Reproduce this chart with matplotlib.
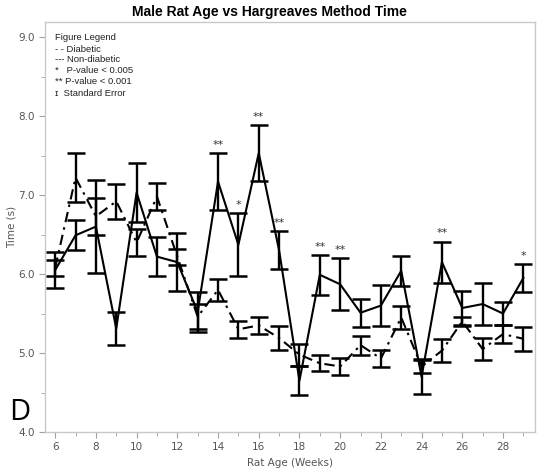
import matplotlib
matplotlib.use("Agg")
import matplotlib.pyplot as plt
from matplotlib.ticker import MultipleLocator

weeks = list(range(6, 30))
nondiabetic = [6.05, 6.49, 6.60, 5.31, 7.03, 6.22, 6.15, 5.52, 7.17, 6.37, 7.53, 6.30,
               4.65, 5.99, 5.87, 5.51, 5.60, 6.04, 4.70, 6.15, 5.57, 5.62, 5.50, 5.95]
nondiabetic_se = [0.23, 0.19, 0.59, 0.21, 0.37, 0.25, 0.37, 0.25, 0.36, 0.40, 0.35, 0.24,
                  0.18, 0.25, 0.33, 0.18, 0.26, 0.19, 0.22, 0.26, 0.22, 0.26, 0.15, 0.18]
diabetic = [6.08, 7.22, 6.73, 6.92, 6.40, 6.98, 6.22, 5.46, 5.80, 5.30, 5.35, 5.19,
            4.98, 4.87, 4.83, 5.10, 4.93, 5.45, 4.83, 5.03, 5.40, 5.05, 5.24, 5.18]
diabetic_se = [0.10, 0.31, 0.23, 0.22, 0.17, 0.17, 0.10, 0.16, 0.14, 0.11, 0.11, 0.15,
               0.14, 0.10, 0.11, 0.12, 0.11, 0.15, 0.08, 0.15, 0.06, 0.14, 0.11, 0.15]
sig_weeks = [14, 15, 16, 17, 19, 20, 25, 29]
sig_marks = ["**", "*", "**", "**", "**", "**", "**", "*"]

legend_lines = ["Figure Legend", "- - Diabetic", "--- Non-diabetic",
                "*   P-value < 0.005", "** P-value < 0.001", "ɪ  Standard Error"]

fig = plt.figure(figsize=(5.39, 4.72), dpi=100)
ax = fig.add_axes([0.0835, 0.0847, 0.909, 0.8687])

ax.errorbar(weeks, nondiabetic, yerr=nondiabetic_se, color="black", lw=1.5,
            ls="-", capsize=6.5, capthick=1.8, elinewidth=1.7, zorder=3)
ax.errorbar(weeks, diabetic, yerr=diabetic_se, color="black", lw=1.5,
            ls=(0, (5, 2.5, 1.2, 2.5)), capsize=6.5, capthick=1.8, elinewidth=1.7, zorder=3)

for w, m in zip(sig_weeks, sig_marks):
    i = weeks.index(w)
    top = nondiabetic[i] + nondiabetic_se[i]
    ax.text(w, top + 0.04, m, ha="center", va="bottom", fontsize=8, color="#333333")

ax.set_xlim(5.5, 29.57)
ax.set_ylim(4.0, 9.19)
ax.xaxis.set_major_locator(MultipleLocator(2))
ax.xaxis.set_minor_locator(MultipleLocator(1))
ax.yaxis.set_major_locator(MultipleLocator(1.0))
ax.yaxis.set_minor_locator(MultipleLocator(0.5))
ax.yaxis.set_major_formatter(matplotlib.ticker.FormatStrFormatter("%.1f"))

for s in ax.spines.values():
    s.set_color("#c8c8c8")
    s.set_linewidth(1.0)
ax.tick_params(which="both", direction="out", color="#a0a0a0", labelcolor="#555555",
               labelsize=7.5)
ax.tick_params(which="major", length=4)
ax.tick_params(which="minor", length=3)

ax.set_xlabel("Rat Age (Weeks)", fontsize=7.5, color="#555555", labelpad=4)
ax.set_ylabel("Time (s)", fontsize=7.5, color="#555555")
ax.yaxis.set_label_coords(-0.058, 0.5)

fig.text(0.5, 0.974, "Male Rat Age vs Hargreaves Method Time", ha="center", va="center",
         fontsize=10, fontweight="bold", family="Liberation Sans")

for k, line in enumerate(legend_lines):
    fig.text(55 / 539, 1 - (38 + k * 11) / 472, line, ha="left", va="center",
             fontsize=6.8, color="#222222", family=["Liberation Sans", "DejaVu Sans"])

fig.text(9 / 539, 1 - 412 / 472, "D", ha="left", va="center", fontsize=21,
         color="black", family="Open Sans")

fig.savefig("out.png", dpi=100)
